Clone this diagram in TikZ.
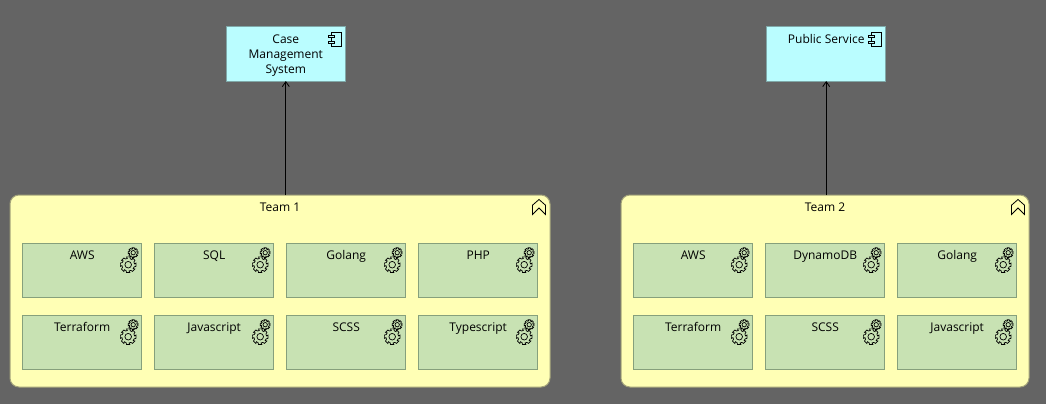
\documentclass[tikz,border=0pt]{standalone}
\usepackage{fontspec}
\setmainfont{Open Sans}
\usetikzlibrary{matrix,arrows.meta}
\definecolor{bggrey}{HTML}{646464}
\definecolor{compcyan}{HTML}{BAFDFF}
\definecolor{compedge}{HTML}{7FA8A8}
\definecolor{teamyellow}{HTML}{FFFFB5}
\definecolor{teamedge}{HTML}{A3A37A}
\definecolor{skillgreen}{HTML}{C8E2B3}
\definecolor{skilledge}{HTML}{86A07C}
\tikzset{
  component/.style={draw=compedge,fill=compcyan,line width=1pt,outer sep=0pt,minimum width=119pt,minimum height=54pt,inner sep=0pt,font=\fontsize{12}{15}\selectfont},
  team/.style={draw=teamedge,fill=teamyellow,line width=1pt,outer sep=0pt,rounded corners=9pt,minimum height=192pt,inner sep=0pt,text height=16pt,text depth=176pt,font=\fontsize{12}{15}\selectfont},
  skill/.style={draw=skilledge,fill=skillgreen,line width=1pt,outer sep=0pt,minimum width=119pt,inner sep=0pt,text height=16pt,text depth=38pt,font=\fontsize{12}{15}\selectfont},
  skills/.style={matrix of nodes,anchor=north west,inner sep=0pt,row sep=17pt,column sep=12pt,nodes={skill}},
  gears/.pic={
    \foreach \cx/\cy/\ro/\ri/\rc in {5/-12/5/3.9/2.2,0/0/8/6.3/3.3}{
      \draw[black,line width=.7pt,fill=none] ({\cx+\ro*cos(12)},{\cy+\ro*sin(12)})
        \foreach \a in {0,45,...,315}{ -- ({\cx+\ro*cos(\a+12)},{\cy+\ro*sin(\a+12)}) -- ({\cx+\ri*cos(\a+20)},{\cy+\ri*sin(\a+20)}) -- ({\cx+\ri*cos(\a+37)},{\cy+\ri*sin(\a+37)}) -- ({\cx+\ro*cos(\a+45-12)},{\cy+\ro*sin(\a+45-12)}) } -- cycle;
      \draw[black,line width=.7pt] (\cx,\cy) circle (\rc);
    }
  },
  compicon/.pic={
    \draw[black,line width=.8pt] (-14.3,5.3) rectangle (-4.3,19.7);
    \draw[black,line width=.8pt,fill=compcyan] (-17,8) rectangle (-11,10.7);
    \draw[black,line width=.8pt,fill=compcyan] (-17,14) rectangle (-11,16.7);
  },
  grouping/.pic={
    \draw[black,line width=.8pt] (-6.5,5.7) -- (0,0) -- (6.5,5.7) -- (6.5,15) -- (0,8.5) -- (-6.5,15) -- cycle;
  }
}

\begin{document}
\begin{tikzpicture}[x=1pt,y=-1pt]
  \useasboundingbox[fill=bggrey] (0,0) rectangle (1046,404);
  \node[component,align=center,text height=47pt,text depth=7pt] (caseMgmt) at (285.8,54) {Case\\Management\\System};
  \node[component,text height=17pt,text depth=37pt] (pubService) at (826.2,54) {Public Service};
  \node[team,minimum width=540pt] (teamOne) at (280,291) {Team 1};
  \node[team,minimum width=408pt] (teamTwo) at (825,291) {Team 2};
  \matrix (one) [skills] at (22,243) {
     AWS & SQL & Golang & PHP \\
     Terraform & Javascript & SCSS & Typescript \\};
  \matrix (two) [skills] at (633,243) {
     AWS & DynamoDB & Golang \\
     Terraform & SCSS & Javascript \\};
  \foreach \n in {one-1-1,one-1-2,one-1-3,one-1-4,one-2-1,one-2-2,one-2-3,one-2-4,two-1-1,two-1-2,two-1-3,two-2-1,two-2-2,two-2-3}
    \pic at ([xshift=-13.5pt,yshift=-21pt]\n.north east) {gears};
  \pic at (caseMgmt.north east) {compicon};
  \pic at (pubService.north east) {compicon};
  \pic at ([xshift=-11pt,yshift=-4.5pt]teamOne.north east) {grouping};
  \pic at ([xshift=-11pt,yshift=-4.5pt]teamTwo.north east) {grouping};
  \path[-{Straight Barb[length=5pt,width=7pt]},line width=.8pt]
    (teamOne.north -| caseMgmt.south) edge (caseMgmt.south)
    (teamTwo.north -| pubService.south) edge (pubService.south);
\end{tikzpicture}
\end{document}
